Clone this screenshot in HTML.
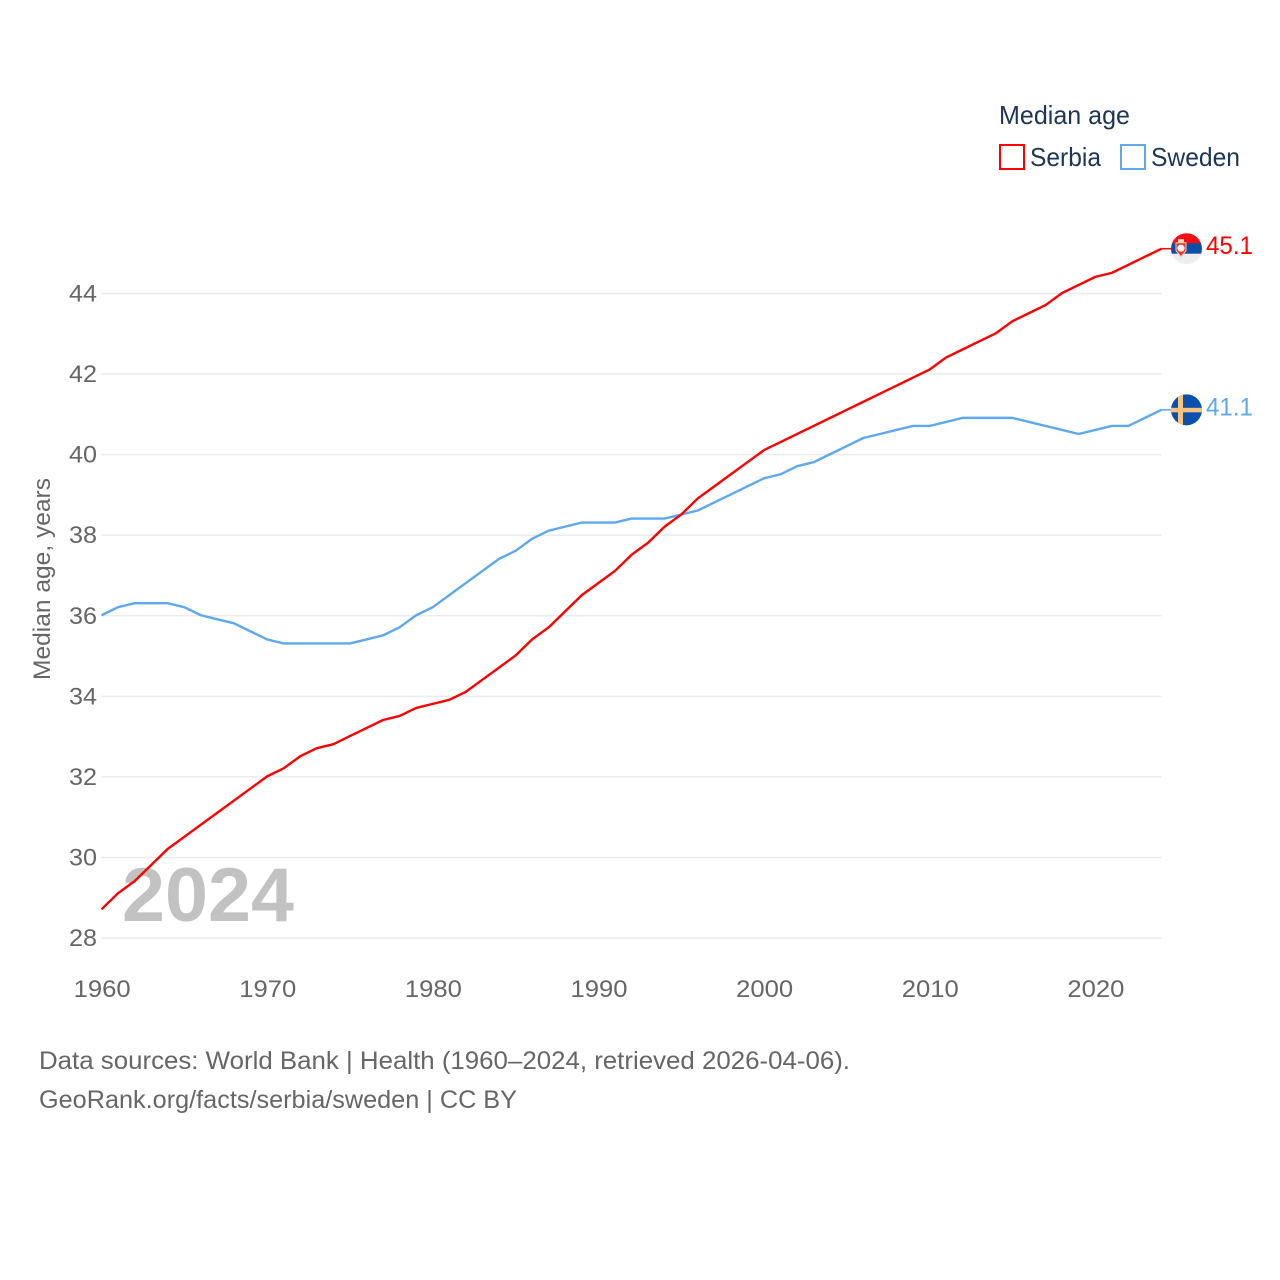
<!DOCTYPE html>
<html lang="en">
<head>
<meta charset="utf-8">
<title>Median age: Serbia and Sweden</title>
<style>
  html, body { margin: 0; padding: 0; background: #fff; }
  svg { display: block; font-family: "Liberation Sans", sans-serif; }
</style>
</head>
<body>
<svg id="chart" width="1280" height="1280" viewBox="0 0 1280 1280" xmlns="http://www.w3.org/2000/svg">
  <defs>
    <clipPath id="flag-clip-0"><circle id="clip-circle-0" r="15.5"></circle></clipPath>
    <clipPath id="flag-clip-1"><circle id="clip-circle-1" r="15.5"></circle></clipPath>
  </defs>
  <rect width="1280" height="1280" fill="#ffffff"></rect>
  <g id="grid"></g>
  <text x="122" y="921" font-size="76" font-weight="700" fill="#c2c2c2" textLength="172" lengthAdjust="spacingAndGlyphs">2024</text>
  <g id="y-ticks"></g>
  <g id="x-ticks"></g>
  <text transform="translate(50 579) rotate(-90)" text-anchor="middle" font-size="24" fill="#666666" textLength="202" lengthAdjust="spacingAndGlyphs">Median age, years</text>
  <g id="series"></g>
  <g id="ends"></g>

  <g>
    <text x="999" y="124" font-size="26" fill="#1d3557" textLength="131" lengthAdjust="spacingAndGlyphs">Median age</text>
    <g>
      <rect x="1000" y="145" width="24" height="24" fill="#ffffff" stroke="#ff0000" stroke-width="2"></rect>
      <text x="1030" y="166" font-size="26" fill="#1d3557" textLength="71" lengthAdjust="spacingAndGlyphs">Serbia</text>
    </g>
    <g>
      <rect x="1121" y="145" width="24" height="24" fill="#ffffff" stroke="#5fa8ee" stroke-width="2"></rect>
      <text x="1151" y="166" font-size="26" fill="#1d3557" textLength="89" lengthAdjust="spacingAndGlyphs">Sweden</text>
    </g>
  </g>

  <text x="39" y="1069" font-size="25" fill="#666666" textLength="811" lengthAdjust="spacingAndGlyphs">Data sources: World Bank | Health (1960–2024, retrieved 2026-04-06).</text>
  <text x="39" y="1108" font-size="25" fill="#666666" textLength="478" lengthAdjust="spacingAndGlyphs">GeoRank.org/facts/serbia/sweden | CC BY</text>
</svg>

<script>
const years = [1960,1961,1962,1963,1964,1965,1966,1967,1968,1969,1970,1971,1972,1973,1974,1975,1976,1977,1978,1979,1980,1981,1982,1983,1984,1985,1986,1987,1988,1989,1990,1991,1992,1993,1994,1995,1996,1997,1998,1999,2000,2001,2002,2003,2004,2005,2006,2007,2008,2009,2010,2011,2012,2013,2014,2015,2016,2017,2018,2019,2020,2021,2022,2023,2024];
const serbiaValues = [28.7,29.1,29.4,29.8,30.2,30.5,30.8,31.1,31.4,31.7,32.0,32.2,32.5,32.7,32.8,33.0,33.2,33.4,33.5,33.7,33.8,33.9,34.1,34.4,34.7,35.0,35.4,35.7,36.1,36.5,36.8,37.1,37.5,37.8,38.2,38.5,38.9,39.2,39.5,39.8,40.1,40.3,40.5,40.7,40.9,41.1,41.3,41.5,41.7,41.9,42.1,42.4,42.6,42.8,43.0,43.3,43.5,43.7,44.0,44.2,44.4,44.5,44.7,44.9,45.1];
const swedenValues = [36.0,36.2,36.3,36.3,36.3,36.2,36.0,35.9,35.8,35.6,35.4,35.3,35.3,35.3,35.3,35.3,35.4,35.5,35.7,36.0,36.2,36.5,36.8,37.1,37.4,37.6,37.9,38.1,38.2,38.3,38.3,38.3,38.4,38.4,38.4,38.5,38.6,38.8,39.0,39.2,39.4,39.5,39.7,39.8,40.0,40.2,40.4,40.5,40.6,40.7,40.7,40.8,40.9,40.9,40.9,40.9,40.8,40.7,40.6,40.5,40.6,40.7,40.7,40.9,41.1];
const yTickValues = [28,30,32,34,36,38,40,42,44];
const xTickValues = [1960,1970,1980,1990,2000,2010,2020];

const NS = 'http://www.w3.org/2000/svg';
const xScale = function (year) { return 101.5 + (year - 1960) * (1161.5 - 101.5) / 64; };
const yScale = function (value) { return 938 - (value - 28) * (938 - 293.5) / 16; };
const lineY = function (value) { return yScale(value) - 0.5; };

function make(parent, tag, attrs, text) {
  const el = document.createElementNS(NS, tag);
  for (const key in attrs) { el.setAttribute(key, attrs[key]); }
  if (text !== undefined) { el.textContent = text; }
  parent.appendChild(el);
  return el;
}

const grid = document.getElementById('grid');
const yTicks = document.getElementById('y-ticks');
const xTicks = document.getElementById('x-ticks');
const seriesLayer = document.getElementById('series');
const ends = document.getElementById('ends');

yTickValues.forEach(function (v) {
  const line = make(grid, 'line', { x1: 101.5, x2: 1161.5, y1: yScale(v), y2: yScale(v), stroke: '#ebebeb', 'stroke-width': 1.5 });
  
  
  const label = make(yTicks, 'text', { x: 97, y: yScale(v) + 8, 'text-anchor': 'end', 'font-size': 24, fill: '#666666', textLength: 28, lengthAdjust: 'spacingAndGlyphs' }, String(v));
  
  
});

xTickValues.forEach(function (year) {
  const label = make(xTicks, 'text', { x: xScale(year) + 0.7, y: 997, 'text-anchor': 'middle', 'font-size': 24, fill: '#666666', textLength: 57, lengthAdjust: 'spacingAndGlyphs' }, String(year));
  
  
});

function linePath(values) {
  return values.map(function (v, i) {
    return (i ? 'L' : 'M') + xScale(years[i]).toFixed(2) + ' ' + lineY(v).toFixed(2);
  }).join(' ');
}

const swedenLine = make(seriesLayer, 'path', { d: linePath(swedenValues), fill: 'none', stroke: '#5fa8ee', 'stroke-width': 2.4, 'stroke-linejoin': 'round' });


const serbiaLine = make(seriesLayer, 'path', { d: linePath(serbiaValues), fill: 'none', stroke: '#ff0000', 'stroke-width': 2.4, 'stroke-linejoin': 'round' });



const flagX = 1186.5;

function endConnector(value, color) {
  const y = lineY(value);
  const connector = make(ends, 'line', { x1: 1161.5, x2: 1172, y1: y, y2: y, stroke: color, 'stroke-width': 1.5 });
  
  
  return y;
}

function endLabel(value, color) {
  const label = make(ends, 'text', { x: 1206, y: lineY(value) + 5.5, 'font-size': 25, fill: color, textLength: 47, lengthAdjust: 'spacingAndGlyphs' }, value.toFixed(1));
  
  
}

/* Serbia flag */
const serbiaLast = serbiaValues[serbiaValues.length - 1];
const sy = endConnector(serbiaLast, '#ff0000');
document.getElementById('clip-circle-0').setAttribute('cx', flagX);
document.getElementById('clip-circle-0').setAttribute('cy', sy);
const serbiaFlag = make(ends, 'g', { 'clip-path': 'url(#flag-clip-0)' });


make(serbiaFlag, 'rect', { x: flagX - 16, y: sy - 16, width: 32, height: 11, fill: '#f50f14' });
make(serbiaFlag, 'rect', { x: flagX - 16, y: sy - 5.5, width: 32, height: 11, fill: '#0d4fa8' });
make(serbiaFlag, 'rect', { x: flagX - 16, y: sy + 5, width: 32, height: 11, fill: '#eeeeee' });
make(serbiaFlag, 'path', { d: 'M' + (flagX - 10.5) + ' ' + (sy - 6) + 'h10v8l-5 6l-5-6z', fill: '#e8303a', stroke: '#f6c9a0', 'stroke-width': 1 });
make(serbiaFlag, 'circle', { cx: flagX - 5.5, cy: sy - 0.5, r: 3.6, fill: '#f7f3ee' });
make(serbiaFlag, 'rect', { x: flagX - 8.5, y: sy - 9.5, width: 6, height: 3.5, fill: '#f7dcc0' });
endLabel(serbiaLast, '#ff0000');

/* Sweden flag */
const swedenLast = swedenValues[swedenValues.length - 1];
const wy = endConnector(swedenLast, '#5fa8ee');
document.getElementById('clip-circle-1').setAttribute('cx', flagX);
document.getElementById('clip-circle-1').setAttribute('cy', wy);
const swedenFlag = make(ends, 'g', { 'clip-path': 'url(#flag-clip-1)' });


make(swedenFlag, 'rect', { x: flagX - 16, y: wy - 16, width: 32, height: 32, fill: '#0b50ad' });
make(swedenFlag, 'rect', { x: flagX - 8.5, y: wy - 16, width: 5, height: 32, fill: '#fcc280' });
make(swedenFlag, 'rect', { x: flagX - 16, y: wy - 2, width: 32, height: 4.5, fill: '#fcc280' });
endLabel(swedenLast, '#5fa8ee');
</script>
</body>
</html>
